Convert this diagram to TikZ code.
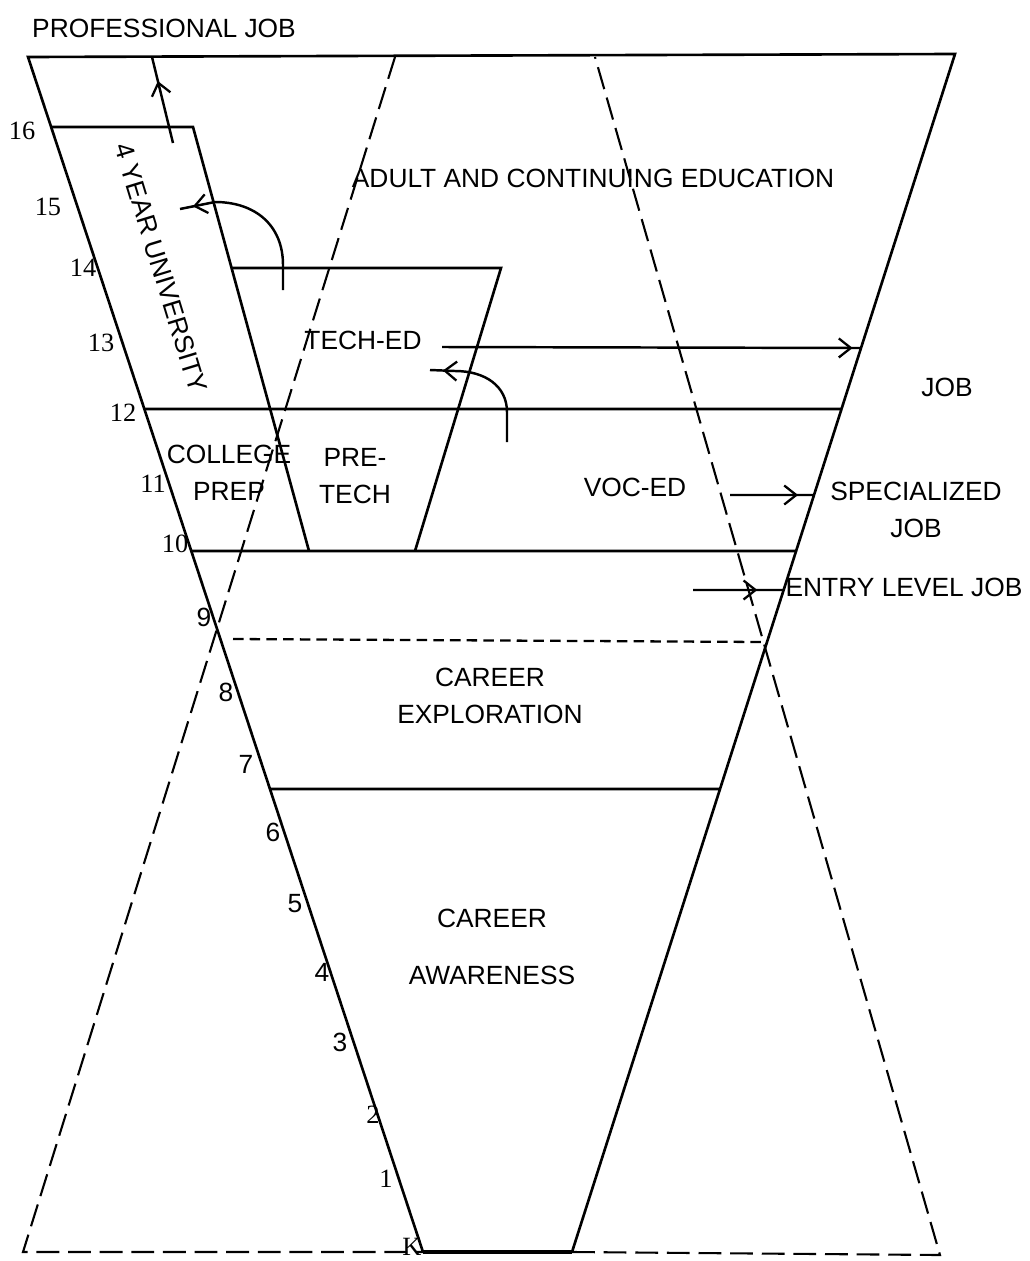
\documentclass[tikz,border=0pt]{standalone}
\usepackage{fontspec}
\setmainfont{Liberation Sans}
\newfontfamily\numfont{Liberation Serif}
\usetikzlibrary{arrows.meta,decorations.markings}

\begin{document}
\begin{tikzpicture}[x=0.02cm,y=-0.02cm,
    solidline/.style={line width=1.5pt},
    dashline/.style={line width=1.2pt,dash pattern=on 13pt off 5pt},
    dotline/.style={line width=1.3pt,dash pattern=on 6pt off 3.5pt},
    lbl/.style={font=\fontsize{15}{21}\selectfont,align=center,inner sep=0pt},
    grade/.style={font=\fontsize{15}{17}\selectfont,inner sep=0pt},
    flow/.style={line width=1.4pt,postaction={decorate},
      decoration={markings,mark=at position #1 with
        {\arrow{Straight Barb[length=2.4mm,width=3.8mm,line width=1.3pt]}}}}]
  \useasboundingbox (0,0) rectangle (1030,1261);

  % outer funnel
  \coordinate (tl) at (28,57);
  \coordinate (tr) at (955,54);
  \coordinate (bl) at (423,1252);
  \coordinate (br) at (572,1252);
  \draw[solidline] (bl) -- (tl) -- (tr) -- (br);
  \draw[line width=2.2pt] (bl) -- (br);

  % dashed hourglass
  \coordinate (dl) at (23,1252);
  \coordinate (dlt) at (395,57);
  \coordinate (drt) at (595,57);
  \coordinate (dr) at (940,1255);
  \draw[dashline] (dlt) -- (dl) -- (bl);
  \draw[dashline] (br) -- (dr) -- (drt);

  % grade levels
  \coordinate (l16) at (intersection of tl--bl and 0,127--100,127);
  \coordinate (u16) at (193,127);
  \coordinate (u10) at (309,551);
  \draw[solidline] (l16) -- (u16) -- (u10);

  \coordinate (t14) at (intersection of u16--u10 and 0,268--100,268);
  \coordinate (t14r) at (501,268);
  \coordinate (t10) at (415,551);
  \draw[solidline] (t14) -- (t14r) -- (t10);

  \coordinate (l12) at (intersection of tl--bl and 0,409--100,409);
  \coordinate (r12) at (intersection of tr--br and 0,409--100,409);
  \draw[solidline] (l12) -- (r12);

  \coordinate (l10) at (intersection of tl--bl and 0,551--100,551);
  \coordinate (r10) at (intersection of tr--br and 0,551--100,551);
  \draw[solidline] (l10) -- (r10);

  \coordinate (l9) at (233,639);
  \coordinate (r9) at (763,642);
  \draw[dotline] (l9) -- (r9);

  \coordinate (l7) at (intersection of tl--bl and 0,789--100,789);
  \coordinate (r7) at (intersection of tr--br and 0,789--100,789);
  \draw[solidline] (l7) -- (r7);

  % labels
  \node[lbl] (prof) at (164,28) {PROFESSIONAL JOB};
  \node[lbl] (adult) at (593,178) {ADULT AND CONTINUING EDUCATION};
  \node[lbl,rotate=-73] (univ) at (161,268) {4 YEAR UNIVERSITY};
  \node[lbl] (teched) at (363,340) {TECH-ED};
  \node[lbl] (college) at (229,473) {COLLEGE\\PREP};
  \node[lbl] (pretech) at (355,476) {PRE-\\TECH};
  \node[lbl] (voced) at (635,487) {VOC-ED};
  \node[lbl] (job) at (947,387) {JOB};
  \node[lbl] (spec) at (916,510) {SPECIALIZED\\JOB};
  \node[lbl] (entry) at (904,587) {ENTRY LEVEL JOB};
  \node[lbl] (explore) at (490,696) {CAREER\\EXPLORATION};
  \node[lbl] (aware) at (492,947) {CAREER\\[11pt]AWARENESS};

  \foreach \g/\x/\y in {16/22/131,15/48/207,14/83/268,13/101/343,12/123/413,
      11/153/484,10/175/544,2/373/1115,1/386/1179,K/412/1247}
    \node[grade,font=\numfont\fontsize{15}{17}\selectfont] (g\g) at (\x,\y) {\g};
  \foreach \g/\x/\y in {9/204/617,8/226/692,7/246/764,6/273/832,5/295/904,
      4/322/972,3/340/1042}
    \node[grade] (g\g) at (\x,\y) {\g};

  % moves between tracks
  \coordinate (pj0) at (173,143);
  \coordinate (pj1) at (152,57);
  \draw[flow=0.72] (pj0) -- (pj1);

  \coordinate (tu0) at (283,290);
  \coordinate (tu1) at (180,209);
  \draw[flow=0.92] (tu0) -- (283,265) .. controls (283,225) and (255,202) .. (215,202) -- (tu1);

  \coordinate (vt0) at (507,442);
  \coordinate (vt1) at (430,370);
  \draw[flow=0.9] (vt0) -- (507,412) .. controls (507,386) and (485,371) .. (455,371) -- (vt1);

  \coordinate (tj0) at (442,347);
  \coordinate (tj1) at (intersection of tr--br and 0,348--100,348);
  \draw[flow=0.98] (tj0) -- (tj1);

  \coordinate (sj0) at (730,495);
  \coordinate (sj1) at (intersection of tr--br and 0,495--100,495);
  \draw[flow=0.81] (sj0) -- (sj1);

  \coordinate (ej0) at (693,590);
  \coordinate (ej1) at (intersection of tr--br and 0,590--100,590);
  \draw[flow=0.71] (ej0) -- (ej1);
\end{tikzpicture}
\end{document}
